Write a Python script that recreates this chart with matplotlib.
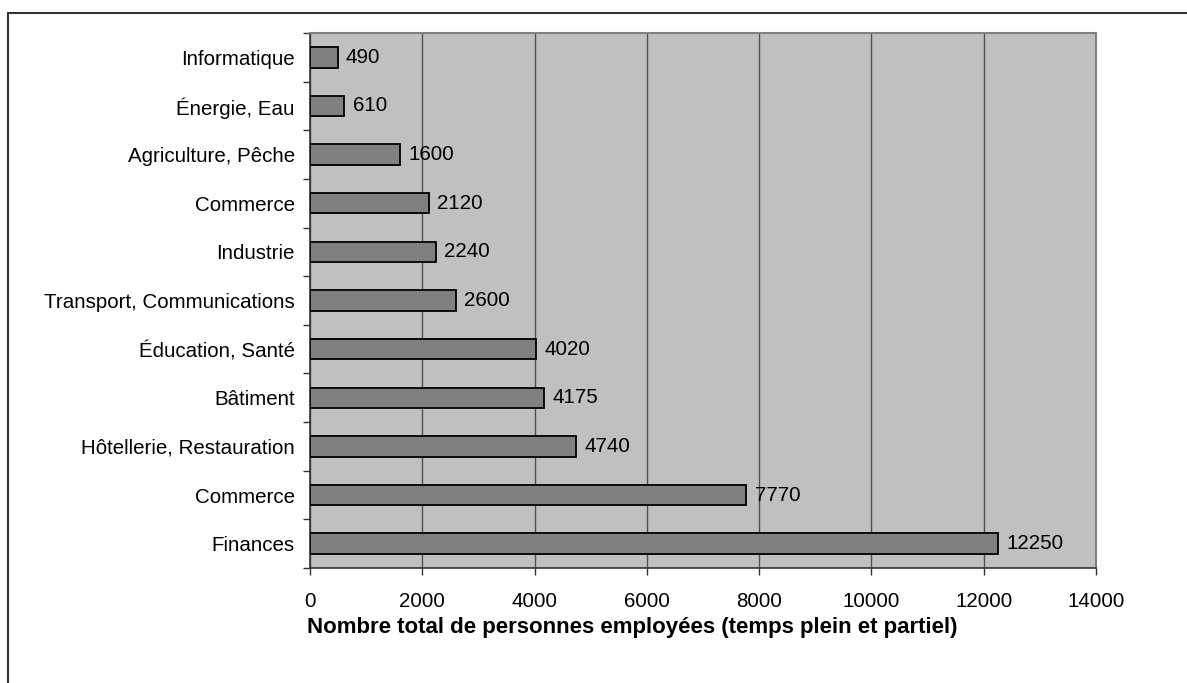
import numpy as np
import matplotlib.pyplot as plt
from matplotlib.patches import Rectangle

plt.rcParams['font.family'] = ['Liberation Sans', 'DejaVu Sans']

# bottom to top
secteurs = ['Finances', 'Commerce', 'Hôtellerie, Restauration', 'Bâtiment',
            'Éducation, Santé', 'Transport, Communications', 'Industrie',
            'Commerce', 'Agriculture, Pêche', 'Énergie, Eau', 'Informatique']
employes = [12250, 7770, 4740, 4175, 4020, 2600, 2240, 2120, 1600, 610, 490]
x_ticks = [0, 2000, 4000, 6000, 8000, 10000, 12000, 14000]

fs = 14.8

fig = plt.figure(figsize=(11.87, 6.83), dpi=100)
ax = fig.add_axes([0.2612, 0.1684, 0.6622, 0.7833])

# chart frame, cut at the right and bottom like the source picture
fig.patches.append(Rectangle((8 / 1187, -0.1), 1.2, 1 - 13 / 683 + 0.1,
                             transform=fig.transFigure, fill=False,
                             edgecolor='#333333', linewidth=1.5))

ax.set_facecolor('#c0c0c0')
y = np.arange(len(secteurs))
ax.barh(y, employes, height=0.42, color='#808080', edgecolor='black',
        linewidth=1.3, zorder=3)
for yi, v in zip(y, employes):
    ax.text(v + 150, yi, str(v), va='center', ha='left', fontsize=fs, zorder=4)

ax.set_xlim(0, 14000)
ax.set_ylim(-0.5, len(secteurs) - 0.5)
ax.set_xticks(x_ticks)
ax.set_xticklabels([str(t) for t in x_ticks], fontsize=fs)
ax.set_yticks(y)
ax.set_yticklabels(secteurs, fontsize=fs)
ax.set_yticks(np.arange(-0.5, len(secteurs), 1), minor=True)
ax.tick_params(axis='y', which='major', length=0, pad=11)
ax.tick_params(axis='y', which='minor', length=5, width=1, color='#333333')
ax.tick_params(axis='x', length=5, width=1, color='#333333', pad=12.5)

ax.xaxis.grid(True, color='#505050', linewidth=1, zorder=1)
ax.set_axisbelow(True)

for side in ['top', 'right']:
    ax.spines[side].set_color('#808080')
    ax.spines[side].set_linewidth(1.5)
for side in ['left', 'bottom']:
    ax.spines[side].set_color('#333333')
    ax.spines[side].set_linewidth(1.2)

ax.set_xlabel('Nombre total de personnes employées (temps plein et partiel)',
              fontsize=16, fontweight='bold')
ax.xaxis.set_label_coords(0.41, -0.091)

fig.savefig('out.png', dpi=100)
